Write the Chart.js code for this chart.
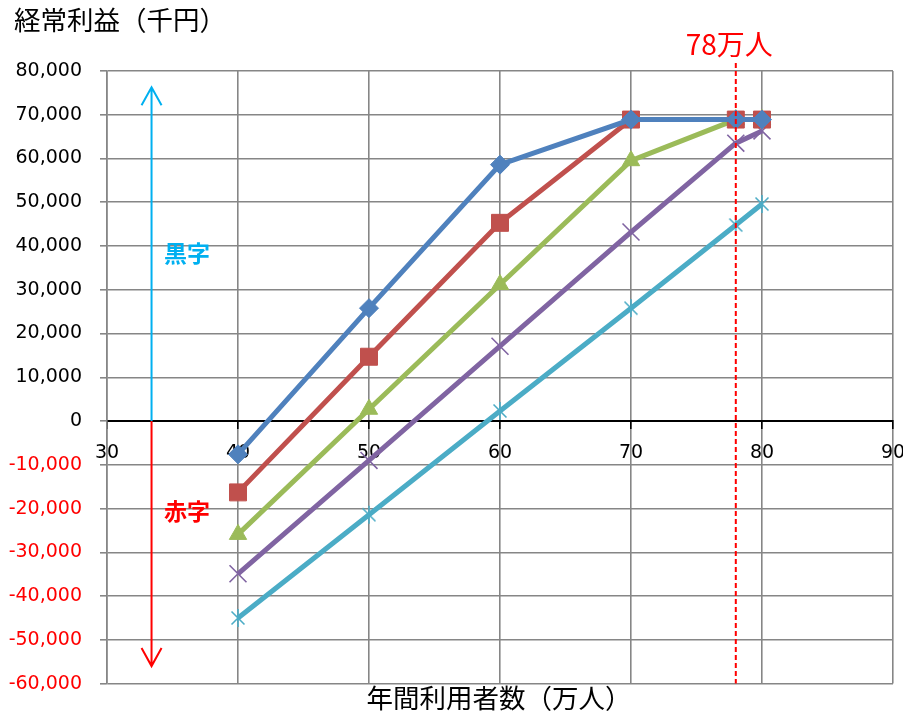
<!DOCTYPE html>
<html>
<head>
<meta charset="utf-8">
<script src="https://cdn.jsdelivr.net/npm/chart.js@4/dist/chart.umd.min.js"></script>
<style>
  html, body { margin: 0; padding: 0; background: #ffffff; }
  canvas { display: block; }
</style>
</head>
<body>
<canvas id="chart" width="903" height="713"></canvas>
<script>
// 年間利用者数（万人）
const users = [40, 50, 60, 70, 78, 80];

// 経常利益（千円）by case
const caseA = [-7600, 25800, 58600, 68900, 68900, 68900];
const caseB = [-16300, 14700, 45300, 68900, 68900, 68900];
const caseC = [-25900, 2700, 31200, 59500, 68900, 68900];
const caseD = [-34900, -9000, 17100, 43200, 63500, 66300];
const caseE = [-45000, -21400, 2300, 25800, 44800, 49600];

// axis ticks
const xTicks = [30, 40, 50, 60, 70, 80, 90];
const yTicks = [-60000, -50000, -40000, -30000, -20000, -10000, 0,
                10000, 20000, 30000, 40000, 50000, 60000, 70000, 80000];

// annotation values
const targetUsers = 78;
const targetLabel = '78万人';
const arrowAt = 33.4;
const arrowUpTo = 76300;
const arrowDownTo = -56000;
const profitLabel = '黒字';
const lossLabel = '赤字';
const profitLabelAt = [36.1, 38400];
const lossLabelAt = [36.1, -20700];
const yTitle = '経常利益（千円）';
const xTitle = '年間利用者数（万人）';

const NUM_FONT = "'DejaVu Sans', 'Noto Sans CJK JP', sans-serif";
const JP_FONT = "'Noto Sans CJK JP', 'Noto Sans', sans-serif";
const GRID = '#868686';

function toPoints(values) {
  return users.map((u, i) => ({ x: u, y: values[i] }));
}

// asterisk-style marker (X with a vertical stroke)
function starMarker(color, size) {
  const c = document.createElement('canvas');
  c.width = size; c.height = size;
  const g = c.getContext('2d');
  g.strokeStyle = color;
  g.lineWidth = 1.6;
  const m = size / 2, r = size / 2 - 1, d = r * 0.72;
  g.beginPath();
  g.moveTo(m - d, m - d); g.lineTo(m + d, m + d);
  g.moveTo(m + d, m - d); g.lineTo(m - d, m + d);
  g.moveTo(m, m - r); g.lineTo(m, m + r);
  g.stroke();
  return c;
}

function series(values, color, style, radius, extra) {
  return Object.assign({
    data: toPoints(values),
    borderColor: color,
    backgroundColor: color,
    borderWidth: 5,
    pointStyle: style,
    pointRadius: radius,
    pointBackgroundColor: color,
    pointBorderColor: color,
    pointBorderWidth: 1,
    tension: 0,
    fill: false
  }, extra || {});
}

const annotations = {
  id: 'annotations',
  afterDatasetsDraw(chart) {
    const { ctx, chartArea, scales: { x, y } } = chart;
    ctx.save();

    // vertical dashed marker
    const tx = x.getPixelForValue(targetUsers);
    ctx.strokeStyle = '#FF0000';
    ctx.lineWidth = 2;
    ctx.setLineDash([5, 3]);
    ctx.beginPath();
    ctx.moveTo(tx, 63);
    ctx.lineTo(tx, chartArea.bottom);
    ctx.stroke();
    ctx.setLineDash([]);

    // up / down arrows
    const ax = x.getPixelForValue(arrowAt);
    const y0 = y.getPixelForValue(0);
    function arrow(tipVal, color) {
      const ty = y.getPixelForValue(tipVal);
      const dir = ty < y0 ? 1 : -1;
      ctx.strokeStyle = color;
      ctx.lineWidth = 2;
      ctx.beginPath();
      ctx.moveTo(ax, y0);
      ctx.lineTo(ax, ty);
      ctx.moveTo(ax - 10, ty + dir * 18);
      ctx.lineTo(ax, ty);
      ctx.lineTo(ax + 10, ty + dir * 18);
      ctx.stroke();
    }
    arrow(arrowUpTo, '#00B0F0');
    arrow(arrowDownTo, '#FF0000');

    ctx.textAlign = 'center';
    ctx.textBaseline = 'middle';
    ctx.font = "bold 23px " + JP_FONT;
    ctx.fillStyle = '#00B0F0';
    ctx.fillText(profitLabel, x.getPixelForValue(profitLabelAt[0]), y.getPixelForValue(profitLabelAt[1]));
    ctx.fillStyle = '#FF0000';
    ctx.fillText(lossLabel, x.getPixelForValue(lossLabelAt[0]), y.getPixelForValue(lossLabelAt[1]));

    ctx.font = "28px " + JP_FONT;
    ctx.fillStyle = '#FF0000';
    ctx.fillText(targetLabel, tx - 6.5, 44);
    ctx.restore();
  },
  afterDraw(chart) {
    const { ctx, chartArea } = chart;
    ctx.save();
    ctx.fillStyle = '#000000';
    ctx.textBaseline = 'middle';
    ctx.font = "26.5px " + JP_FONT;
    ctx.textAlign = 'left';
    ctx.fillText(yTitle, 14, 20);
    ctx.textAlign = 'center';
    ctx.fillText(xTitle, (chartArea.left + chartArea.right) / 2 - 1, 698);
    ctx.restore();
  }
};

new Chart(document.getElementById('chart'), {
  type: 'line',
  data: {
    datasets: [
      series(caseA, '#4F81BD', 'rectRot', 9.5),
      series(caseB, '#C0504D', 'rect', 12),
      series(caseC, '#9BBB59', 'triangle', 10),
      series(caseD, '#8064A2', 'crossRot', 12, { pointBorderWidth: 1.6 }),
      series(caseE, '#4BACC6', starMarker('#4BACC6', 20), 10)
    ]
  },
  options: {
    responsive: false,
    animation: false,
    events: [],
    devicePixelRatio: 1,
    layout: { autoPadding: false, padding: { top: 71, right: 10, bottom: 0, left: 0 } },
    plugins: {
      legend: { display: false },
      title: { display: false },
      tooltip: { enabled: false }
    },
    scales: {
      x: {
        type: 'linear',
        position: { y: 0 },
        min: 30,
        max: 90,
        afterBuildTicks: s => { s.ticks = xTicks.map(v => ({ value: v })); },
        afterFit: s => { s.height = 29; s.paddingLeft = 0; s.paddingRight = 0; },
        ticks: {
          font: { family: NUM_FONT, size: 19 },
          color: '#000000',
          padding: 14,
          maxRotation: 0,
          autoSkip: false,
          callback: v => String(v)
        },
        grid: { color: GRID, lineWidth: 1.6, tickLength: 7, tickColor: '#000000' },
        border: { color: '#000000', width: 2 }
      },
      y: {
        type: 'linear',
        min: -60000,
        max: 80000,
        afterBuildTicks: s => { s.ticks = yTicks.map(v => ({ value: v })); },
        afterFit: s => { s.width = 107; },
        ticks: {
          font: { family: NUM_FONT, size: 19 },
          color: c => (c.tick && c.tick.value < 0) ? '#FF0000' : '#000000',
          padding: 18,
          autoSkip: false,
          callback: v => Number(v).toLocaleString('en-US')
        },
        grid: { color: GRID, lineWidth: 1.6, tickLength: 7, tickColor: GRID },
        border: { color: GRID, width: 1.6 }
      }
    }
  },
  plugins: [annotations]
});
</script>
</body>
</html>
